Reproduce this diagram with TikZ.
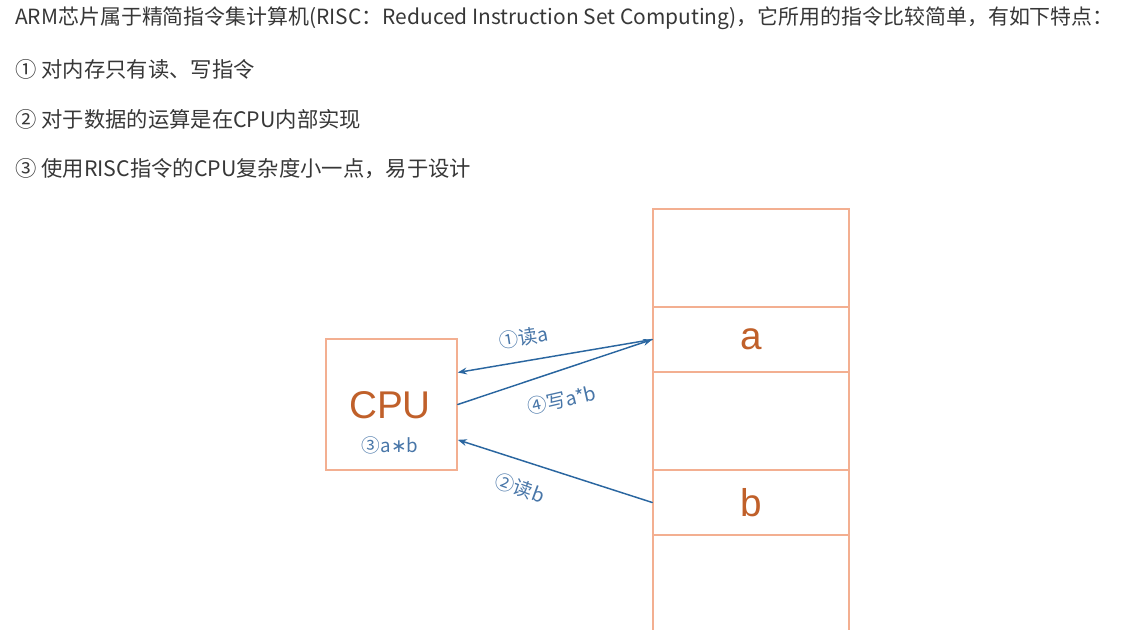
\documentclass[tikz,border=0pt]{standalone}
\usepackage{fontspec}
\setmainfont{Noto Sans CJK SC}
\newfontfamily\helv{Liberation Sans}
\newfontfamily\symb{DejaVu Sans}
\usetikzlibrary{arrows.meta}
\definecolor{boxline}{RGB}{243,175,145}
\definecolor{cputext}{RGB}{192,96,42}
\definecolor{arrowblue}{RGB}{42,102,160}
\definecolor{labelblue}{RGB}{72,118,168}
\definecolor{textgray}{RGB}{55,55,55}

\begin{document}
\begin{tikzpicture}[x=0.75pt,y=-0.75pt,>={Stealth[length=2.4mm]},line cap=round,
  txt/.style={anchor=west,inner sep=0pt,text=textgray,font=\fontsize{16}{18}\selectfont},
  cell/.style={draw=boxline,line width=1.1pt,minimum width=147pt,inner sep=0pt},
  big/.style={inner sep=0pt,text=cputext,font=\helv\fontsize{29}{30}\selectfont},
  link/.style={draw=arrowblue,line width=1.1pt},
  lab/.style={inner sep=0pt,text=labelblue,font=\fontsize{14.5}{16}\selectfont}]
\useasboundingbox (0,0) rectangle (1122,630);
\clip (0,0) rectangle (1122,630);
% text lines
\node[txt,font=\fontsize{15.7}{18}\selectfont] (line0) at (15,18) {ARM芯片属于精简指令集计算机(RISC：Reduced Instruction Set Computing)，它所用的指令比较简单，有如下特点：};
\node[txt] (line1) at (15,69) {① 对内存只有读、写指令};
\node[txt] (line2) at (15,119) {② 对于数据的运算是在CPU内部实现};
\node[txt] (line3) at (15,169) {③ 使用RISC指令的CPU复杂度小一点，易于设计};
% memory
\node[cell,minimum height=73.5pt] (m0) at (751,258) {};
\node[cell,minimum height=48.75pt] (ma) at (751,339.5) {};
\node[cell,minimum height=73.5pt] (m2) at (751,421) {};
\node[cell,minimum height=48.75pt] (mb) at (751,502.5) {};
\node[cell,minimum height=90pt] (m4) at (751,595) {};
\node[big] (vala) at (ma) {a};
\node[big] (valb) at (mb) {b};
% cpu
\node[cell,minimum width=98.25pt,minimum height=98.25pt] (cpu) at (391.5,404.5) {};
\node[big] (cpuname) at (390,405) {CPU};
\node[lab,font=\fontsize{14}{16}\selectfont] (mul) at (390,445) {③a{\symb ∗}b};
% read and write
\draw[link,->] (ma.west) -- ([yshift=24pt]cpu.east);
\draw[link,->] (cpu.east) -- (ma.west);
\draw[link,->] (mb.west) -- ([yshift=-26.5pt]cpu.east);
\node[lab,rotate=9] (rda) at (524,337) {①读a};
\node[lab,rotate=13] (wrab) at (562,400) {④写a*b};
\node[lab,rotate=-20] (rdb) at (520,488) {②读b};
\end{tikzpicture}
\end{document}
